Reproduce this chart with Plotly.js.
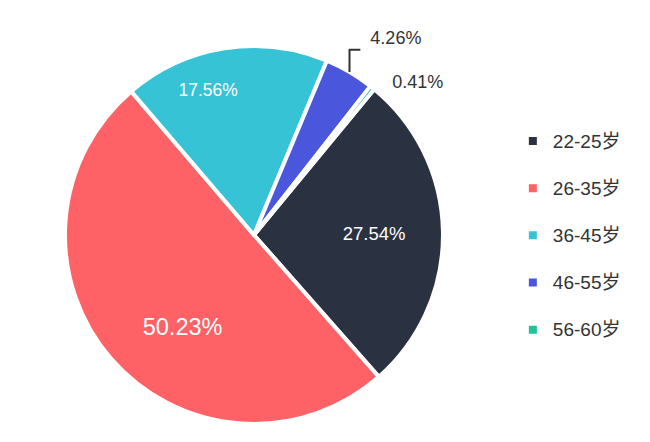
<!DOCTYPE html>
<html>
<head>
<meta charset="utf-8">
<script src="https://cdn.plot.ly/plotly-3.0.1.min.js"></script>
<style>
  html, body { margin: 0; padding: 0; background: #fff; }
  #chart { width: 650px; height: 442px; }
</style>
</head>
<body>
<div id="chart"></div>
<script>
// age groups and their share (%)
const categories = ["22-25岁", "26-35岁", "36-45岁", "46-55岁", "56-60岁"];
const shares = [27.54, 50.23, 17.56, 4.26, 0.41];
const colors = ["#2a3242", "#fe6166", "#36c3d5", "#4a57dc", "#1bc596"];

const FONT = '"Liberation Sans", Arial, "Noto Sans CJK SC", sans-serif';

// a blank second line gives each legend row the taller spacing of the original
const legendLabels = categories.map(c => '<span style="font-size:19px">' + c + "</span><br> ");

// blank lines and spaces nudge the labels to where the original has them
const pct = "%{value:.2f}%";
const sp = n => "\u00a0".repeat(n);
const sliceText = [
  sp(5) + pct,
  " <br> <br>" + pct,
  pct + sp(11) + "<br> <br> ",
  sp(2) + pct + "<br> ",
  sp(3) + pct,
];

Plotly.newPlot("chart", [{
  type: "pie",
  labels: legendLabels,
  values: shares,
  sort: false,
  direction: "clockwise",
  rotation: 39.5,
  marker: { colors: colors, line: { color: "#ffffff", width: 4 } },
  texttemplate: sliceText,
  textposition: ["inside", "inside", "inside", "outside", "outside"],
  insidetextorientation: "horizontal",
  insidetextfont: { color: "#ffffff", size: [18.5, 23.5, 18.5, 16, 16], family: FONT },
  outsidetextfont: { color: "#333333", size: 18, family: FONT },
  domain: { x: [0.1, 0.6815], y: [0.0407, 0.8959] },
  hoverinfo: "none",
}], {
  width: 650,
  height: 442,
  paper_bgcolor: "#ffffff",
  margin: { t: 0, b: 0, l: 0, r: 0 },
  font: { family: FONT, color: "#333333" },
  showlegend: true,
  legend: {
    x: 0.789, xanchor: "left",
    y: 0.7208, yanchor: "top",
    valign: "top",
    font: { size: 17, color: "#333333", family: FONT },
    bgcolor: "rgba(0,0,0,0)",
  },
}, { displayModeBar: false, staticPlot: true });
</script>
</body>
</html>
